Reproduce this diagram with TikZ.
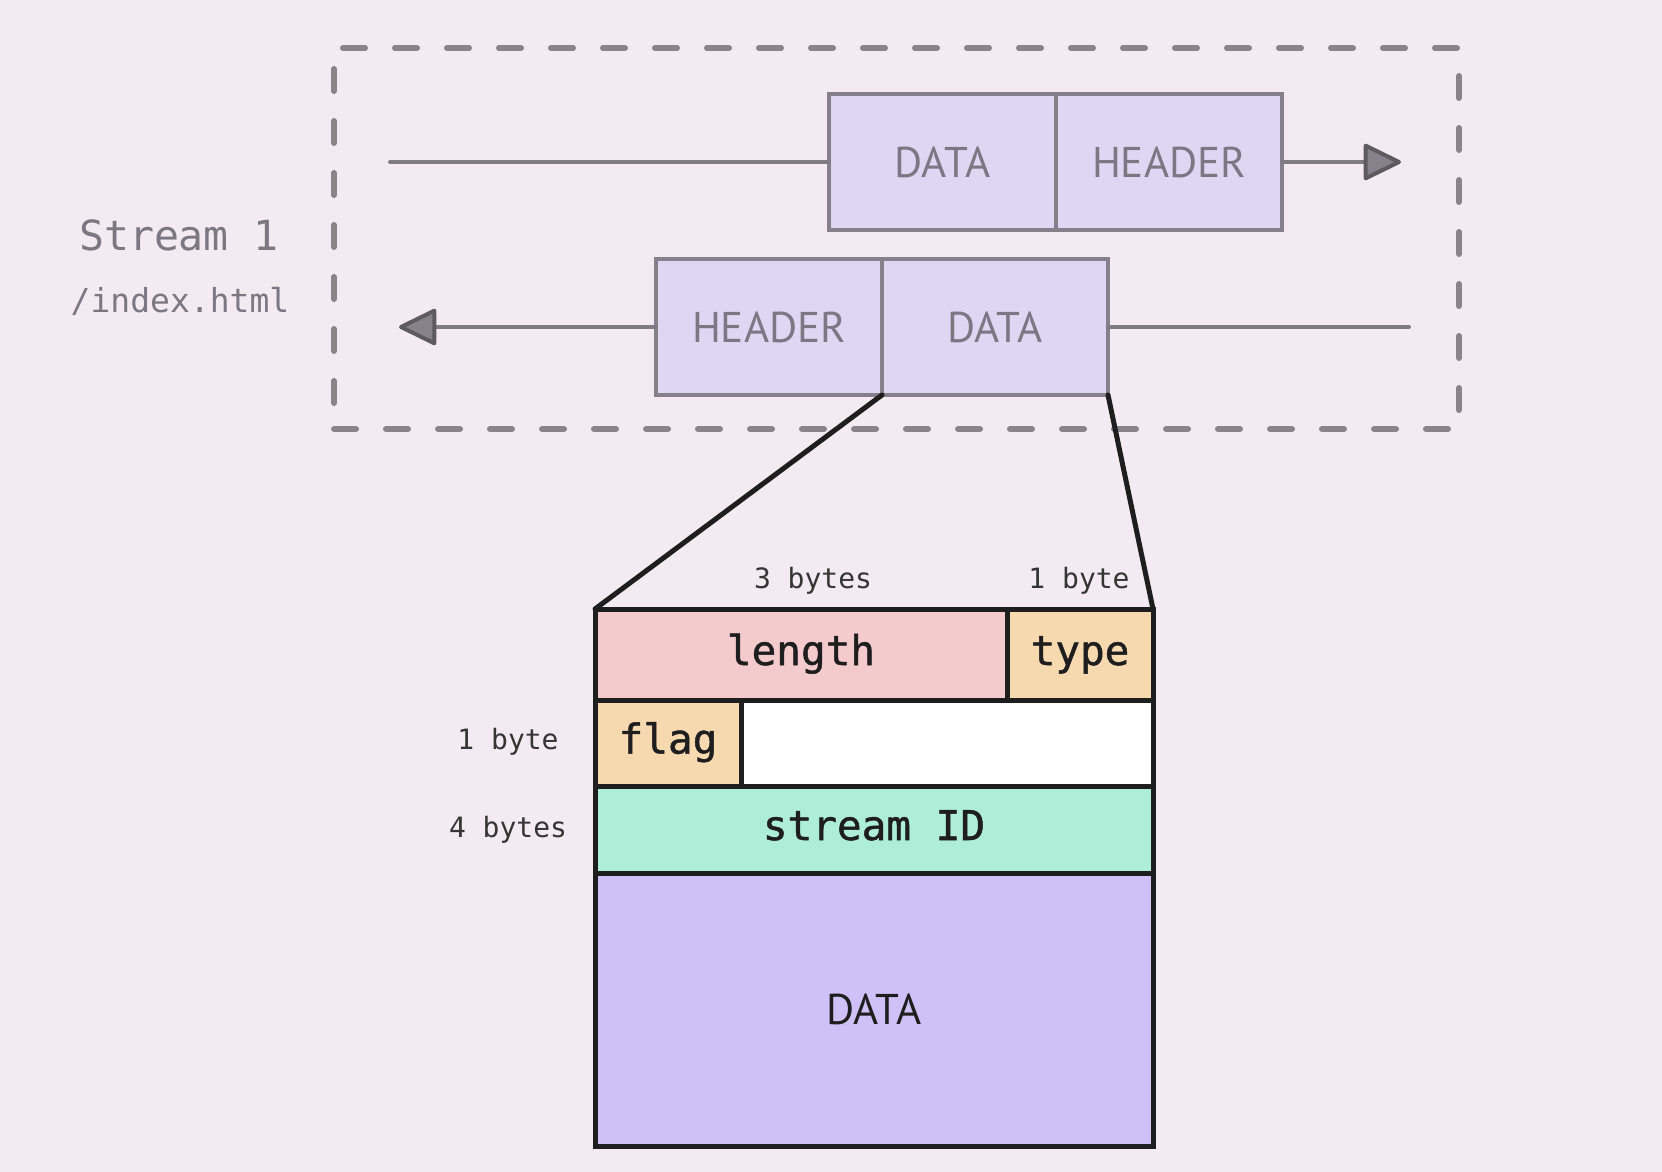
\documentclass[tikz,border=0pt]{standalone}
\usepackage{fontspec}
\setmainfont{PT Sans}
\newfontfamily\monof{DejaVu Sans Mono}
\newfontfamily\monofb[FakeBold=1.2]{DejaVu Sans Mono}
\usetikzlibrary{arrows.meta}
\definecolor{bg}{HTML}{F3EBF1}
\definecolor{dashgray}{HTML}{8A8489}
\definecolor{boxfill}{HTML}{DED6F3}
\definecolor{boxline}{HTML}{858089}
\definecolor{boxtext}{HTML}{7C7783}
\definecolor{linegray}{HTML}{807A82}
\definecolor{arrowline}{HTML}{5E5A60}
\definecolor{arrowfill}{HTML}{87828A}
\definecolor{inkc}{HTML}{1E1E1E}
\definecolor{lenfill}{HTML}{F4CBCD}
\definecolor{typefill}{HTML}{F7D9B0}
\definecolor{sidfill}{HTML}{AEEED9}
\definecolor{datafill}{HTML}{CFC1F7}
\begin{document}
\begin{tikzpicture}[x=1pt,y=-1pt,
  pkt/.style={draw=boxline, line width=4pt, fill=boxfill, text=boxtext,
    font=\fontsize{43}{43}\selectfont, minimum height=136pt,
    inner sep=0pt, outer sep=0pt, anchor=north west},
  conn/.style={draw=linegray, line width=4pt, line cap=round},
  headtip/.style={-{Triangle[length=40pt,width=38pt,color=arrowline,fill=arrowfill,line join=round]}},
  dashbox/.style={draw=dashgray, line width=6pt, line cap=round,
    dash pattern=on 22pt off 30pt, inner sep=0pt, outer sep=0pt, anchor=north west},
  cellbase/.style={draw=inkc, line width=5pt, inner sep=0pt, outer sep=0pt,
    anchor=north west, text=inkc},
  cell/.style={cellbase, font=\monofb\fontsize{41}{41}\selectfont,
    text height=31pt, text depth=10pt},
  funnel/.style={draw=inkc, line width=5pt, line cap=round},
  sizelabel/.style={text=inkc!90, font=\monof\fontsize{28}{28}\selectfont, inner sep=0pt},
  streamlabel/.style={text=boxtext, inner sep=0pt}
]
\fill[bg] (0,0) rectangle (1662,1172);
\useasboundingbox (0,0) rectangle (1662,1172);

% stream box
\node[dashbox, minimum width=1125pt, minimum height=381pt] (stream) at (334,48) {};
\node[streamlabel, font=\monof\fontsize{41.5}{41.5}\selectfont] (s1) at (179,235) {Stream 1};
\node[streamlabel, font=\monof\fontsize{33}{33}\selectfont] (idx) at (180,301) {/index.html};

% top row
\node[pkt, minimum width=227pt] (d1) at (829,94) {DATA};
\node[pkt, minimum width=226pt] (h1) at (1056,94) {HEADER};
\coordinate (tl) at (390,162);
\coordinate (tr) at (1401,162);
\draw[conn] (tl) -- (d1.west);
\draw[conn, headtip] (h1.east) -- (tr);

% bottom row
\node[pkt, minimum width=226pt] (h2) at (656,259) {HEADER};
\node[pkt, minimum width=226pt] (d2) at (882,259) {DATA};
\coordinate (bl) at (399,327);
\coordinate (br) at (1409,327);
\draw[conn, headtip] (h2.west) -- (bl);
\draw[conn] (d2.east) -- (br);

% frame
\node[cell, fill=lenfill, minimum width=412pt, minimum height=91pt] (len) at (595,609) {length};
\node[cell, fill=typefill, minimum width=146pt, minimum height=91pt] (typ) at (1007,609) {type};
\node[cell, fill=typefill, minimum width=146pt, minimum height=86pt] (flg) at (595,700) {flag};
\node[cell, fill=white, minimum width=412pt, minimum height=86pt] (blank) at (741,700) {};
\node[cell, fill=sidfill, minimum width=558pt, minimum height=87pt] (sid) at (595,786) {stream ID};
\node[cellbase, fill=datafill, minimum width=558pt, minimum height=273pt,
  font=\fontsize{43}{43}\selectfont] (dat) at (595,873) {DATA};

% funnel
\draw[funnel] (d2.south west) -- (len.north west);
\draw[funnel] (d2.south east) -- (typ.north east);

% size labels
\node[sizelabel] (l3) at (813,581) {3 bytes};
\node[sizelabel] (l1t) at (1079,581) {1 byte};
\node[sizelabel] (l1f) at (508,742) {1 byte};
\node[sizelabel] (l4) at (508,830) {4 bytes};
\end{tikzpicture}
\end{document}
